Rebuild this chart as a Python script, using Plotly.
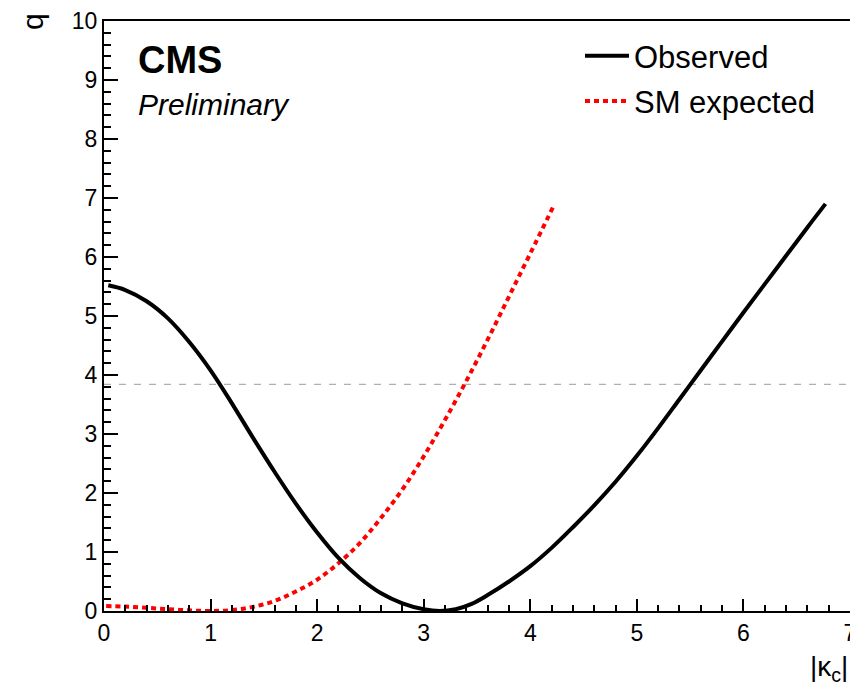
import plotly.graph_objects as go

# Observed curve
obs_x = [0.04, 0.2, 0.4, 0.6, 0.8, 1.0, 1.2, 1.4, 1.6, 1.8, 2.0, 2.2, 2.4, 2.6, 2.8, 3.0,
         3.15, 3.3, 3.45, 3.6, 3.8, 4.0, 4.2, 4.4, 4.6, 4.8, 5.0, 5.2, 5.4, 5.6, 5.8,
         6.0, 6.2, 6.4, 6.6, 6.77]
obs_q = [5.52, 5.44, 5.25, 4.96, 4.56, 4.08, 3.52, 2.93, 2.36, 1.82, 1.33, 0.90, 0.56, 0.30,
         0.13, 0.03, 0.0, 0.03, 0.12, 0.27, 0.50, 0.76, 1.07, 1.42, 1.79, 2.19, 2.63, 3.10,
         3.59, 4.08, 4.57, 5.06, 5.54, 6.02, 6.50, 6.90]

# SM expected curve
exp_x = [0.02, 0.2, 0.4, 0.6, 0.8, 1.0, 1.2, 1.4, 1.6, 1.8, 2.0, 2.2, 2.4, 2.6, 2.8, 3.0,
         3.2, 3.4, 3.6, 3.8, 4.0, 4.22]
exp_q = [0.085, 0.075, 0.055, 0.03, 0.01, 0.0, 0.015, 0.07, 0.17, 0.33, 0.53, 0.81, 1.15, 1.58,
         2.06, 2.62, 3.24, 3.90, 4.60, 5.33, 6.06, 6.87]

# 95% CL threshold
thr_x = [0, 7]
thr_q = [3.84, 3.84]

FONT = "Liberation Sans, Arial, Helvetica, sans-serif"

fig = go.Figure()
fig.add_trace(go.Scatter(x=thr_x, y=thr_q, mode="lines", showlegend=False,
                         line=dict(color="#b0b0b0", width=1.2, dash="7px,8px"),
                         hoverinfo="skip"))
fig.add_trace(go.Scatter(x=exp_x, y=exp_q, mode="lines", name="SM expected",
                         legendgroup="b", legendrank=2,
                         line=dict(color="#ff0000", width=4, dash="5px,4px", shape="spline")))
fig.add_trace(go.Scatter(x=obs_x, y=obs_q, mode="lines", name="Observed",
                         legendgroup="a", legendrank=1,
                         line=dict(color="black", width=4, shape="spline")))

axis_common = dict(showgrid=False, zeroline=False, showline=True, linecolor="black",
                   linewidth=2, ticks="inside", tickcolor="black", tickwidth=2,
                   dtick=1, automargin=False,
                   tickfont=dict(family=FONT, size=23, color="black"))

fig.update_xaxes(range=[0, 7], tick0=0, ticklen=12, mirror=True,
                 ticklabeloverflow="allow",
                 minor=dict(dtick=0.2, ticklen=6, ticks="inside", tickcolor="black",
                            tickwidth=2),
                 **axis_common)
fig.update_yaxes(range=[0, 10], tick0=0, ticklen=14,
                 minor=dict(dtick=0.2, ticklen=7, ticks="inside", tickcolor="black",
                            tickwidth=2),
                 **axis_common)

W, H = 850, 687
L, R, T, B = 104, 0, 21, 76
pw, ph = W - L - R, H - T - B


def px(xp):
    return (xp - L) / pw


def py(yp):
    return (H - B - yp) / ph


fig.update_layout(
    width=W, height=H,
    margin=dict(l=L, r=R, t=T, b=B, autoexpand=False),
    plot_bgcolor="white", paper_bgcolor="white",
    font=dict(family=FONT, color="black"),
    showlegend=True,
    legend=dict(x=px(580), y=py(29), xanchor="left", yanchor="top",
                bgcolor="rgba(0,0,0,0)", borderwidth=0,
                font=dict(family=FONT, size=31, color="black"),
                tracegroupgap=2, itemwidth=44),
    annotations=[
        dict(text="<b>CMS</b>", x=px(136), y=py(60), xref="paper", yref="paper",
             xanchor="left", yanchor="middle", showarrow=False,
             font=dict(family=FONT, size=38, color="black")),
        dict(text="<i>Preliminary</i>", x=px(136), y=py(105), xref="paper", yref="paper",
             xanchor="left", yanchor="middle", showarrow=False,
             font=dict(family=FONT, size=30, color="black")),
        dict(text="|κ<sub>c</sub>|", x=1, y=py(668), xref="paper", yref="paper",
             xanchor="right", yanchor="middle", showarrow=False,
             font=dict(family=FONT, size=28, color="black")),
        dict(text="q", x=px(33), y=py(22), xref="paper", yref="paper",
             xanchor="center", yanchor="middle", showarrow=False, textangle=-90,
             font=dict(family=FONT, size=30, color="black")),
    ],
)

fig.write_html("out.html")
